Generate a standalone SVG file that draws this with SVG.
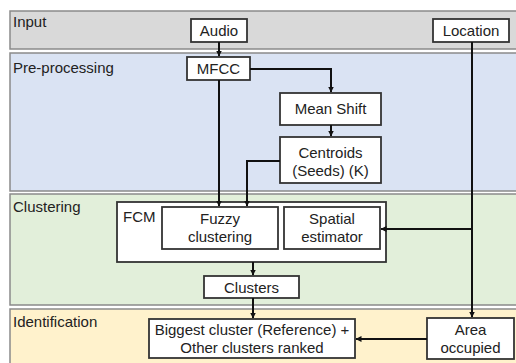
<svg xmlns="http://www.w3.org/2000/svg" width="516" height="363" viewBox="0 0 516 363">
<defs>
<marker id="ah" markerWidth="6" markerHeight="6" refX="5.5" refY="3" orient="auto" markerUnits="userSpaceOnUse"><path d="M0,0 L6,3 L0,6 z" fill="#111"/></marker>
<style>
.band{stroke:#8a8a8a;stroke-width:1.5}
.box{fill:#fff;stroke:#333;stroke-width:1.8}
.lbl{font-family:"Liberation Sans",Arial,sans-serif;font-size:15px;fill:#222}
.t{font-family:"Liberation Sans",Arial,sans-serif;font-size:15px;fill:#222;text-anchor:middle}
.c{fill:none;stroke:#111;stroke-width:2}
</style>
</defs>
<rect width="516" height="363" fill="#fff"/>
<g id="bands">
<rect class="band" x="10" y="11" width="512" height="38" fill="#d9d9d9"/>
<rect class="band" x="10" y="53" width="512" height="138" fill="#dae3f3"/>
<rect class="band" x="10" y="194" width="512" height="111" fill="#e2efda"/>
<rect class="band" x="10" y="309" width="512" height="60" fill="#fff2cc"/>
<text class="lbl" x="13" y="27">Input</text>
<text class="lbl" x="13" y="73">Pre-processing</text>
<text class="lbl" x="13" y="212">Clustering</text>
<text class="lbl" x="13" y="327">Identification</text>
</g>
<g id="audio"><rect class="box" x="191" y="19" width="56" height="23"/><text class="t" x="219" y="36">Audio</text></g>
<g id="location"><rect class="box" x="433" y="19" width="76" height="23"/><text class="t" x="471" y="36">Location</text></g>
<g id="mfcc"><rect class="box" x="187" y="57" width="63" height="23"/><text class="t" x="218.5" y="74">MFCC</text></g>
<g id="meanshift"><rect class="box" x="280" y="93" width="101" height="32"/><text class="t" x="330.5" y="114">Mean Shift</text></g>
<g id="centroids"><rect class="box" x="280" y="137" width="101" height="46"/><text class="t" x="330.5" y="158">Centroids</text><text class="t" x="330.5" y="176">(Seeds) (K)</text></g>
<g id="fcm"><rect class="box" x="117" y="202" width="269" height="60"/><text class="lbl" x="123" y="222">FCM</text></g>
<g id="fuzzy"><rect class="box" x="162" y="207" width="116" height="42"/><text class="t" x="220" y="224">Fuzzy</text><text class="t" x="220" y="242">clustering</text></g>
<g id="spatial"><rect class="box" x="284" y="207" width="96" height="42"/><text class="t" x="332" y="224">Spatial</text><text class="t" x="332" y="242">estimator</text></g>
<g id="clusters"><rect class="box" x="204" y="276" width="95" height="22"/><text class="t" x="251.5" y="293">Clusters</text></g>
<g id="biggest"><rect class="box" x="149" y="319" width="206" height="39"/><text class="t" x="252" y="335">Biggest cluster (Reference) +</text><text class="t" x="252" y="353">Other clusters ranked</text></g>
<g id="area"><rect class="box" x="427" y="318" width="87" height="41"/><text class="t" x="470.5" y="335">Area</text><text class="t" x="470.5" y="353">occupied</text></g>
<g id="connectors">
<path class="c" d="M219,42 V56" marker-end="url(#ah)"/>
<path class="c" d="M250,69 H331 V92" marker-end="url(#ah)"/>
<path class="c" d="M331,125 V136" marker-end="url(#ah)"/>
<path class="c" d="M219,80 V206" marker-end="url(#ah)"/>
<path class="c" d="M280,161 H247 V206" marker-end="url(#ah)"/>
<path class="c" d="M472,42 V317" marker-end="url(#ah)"/>
<path class="c" d="M472,229 H381" marker-end="url(#ah)"/>
<path class="c" d="M253,262 V275" marker-end="url(#ah)"/>
<path class="c" d="M253,298 V318" marker-end="url(#ah)"/>
<path class="c" d="M427,339 H356" marker-end="url(#ah)"/>
</g>
</svg>
